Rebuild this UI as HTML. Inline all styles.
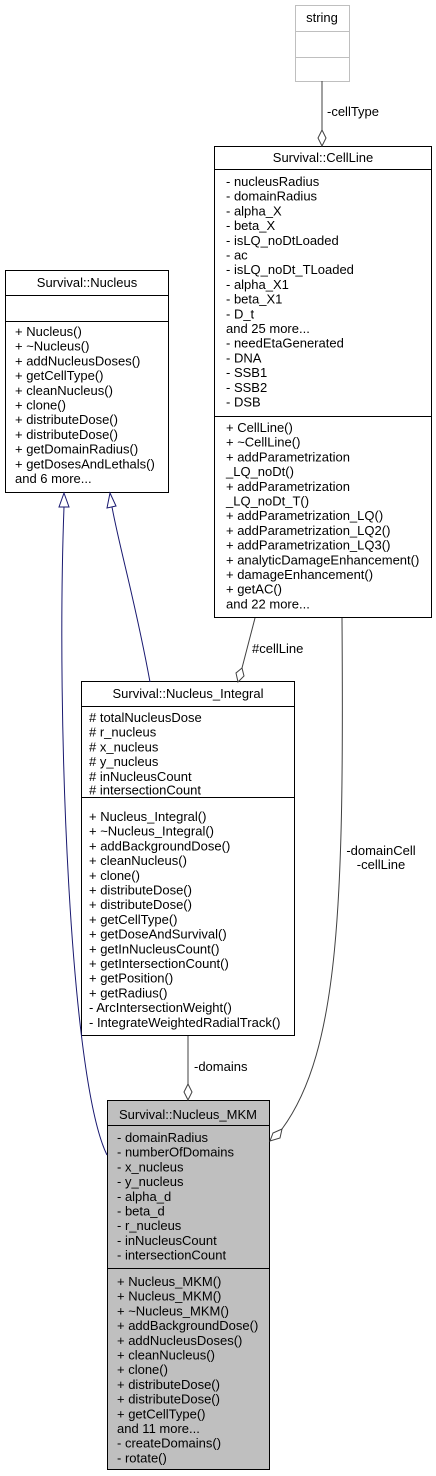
<!DOCTYPE html>
<html><head><meta charset="utf-8"><style>
html,body{margin:0;padding:0;background:#fff}
svg{display:block}
text{font-family:"Liberation Sans",Arial,sans-serif;font-size:13px;fill:#000}
</style></head><body>
<svg width="436" height="1476" viewBox="0 0 436 1476" xmlns="http://www.w3.org/2000/svg">
<!-- string -->
<rect x="295.5" y="5.5" width="54" height="76" fill="#fff" stroke="#bfbfbf"/>
<line x1="295.5" y1="31.5" x2="349.5" y2="31.5" stroke="#bfbfbf"/>
<line x1="295.5" y1="57.5" x2="349.5" y2="57.5" stroke="#bfbfbf"/>
<text x="322" y="22" text-anchor="middle">string</text>

<!-- CellLine -->
<rect x="214.5" y="146.5" width="217" height="471" fill="#fff" stroke="#000"/>
<line x1="214.5" y1="169.5" x2="431.5" y2="169.5" stroke="#000"/>
<line x1="214.5" y1="416.5" x2="431.5" y2="416.5" stroke="#000"/>
<text x="323" y="162" text-anchor="middle">Survival::CellLine</text>
<g>
<text x="226" y="186">- nucleusRadius</text>
<text x="226" y="200.7">- domainRadius</text>
<text x="226" y="215.4">- alpha_X</text>
<text x="226" y="230.1">- beta_X</text>
<text x="226" y="244.8">- isLQ_noDtLoaded</text>
<text x="226" y="259.5">- ac</text>
<text x="226" y="274.2">- isLQ_noDt_TLoaded</text>
<text x="226" y="288.9">- alpha_X1</text>
<text x="226" y="303.6">- beta_X1</text>
<text x="226" y="318.3">- D_t</text>
<text x="226" y="333">and 25 more...</text>
<text x="226" y="347.7">- needEtaGenerated</text>
<text x="226" y="362.4">- DNA</text>
<text x="226" y="377.1">- SSB1</text>
<text x="226" y="391.8">- SSB2</text>
<text x="226" y="406.5">- DSB</text>
<text x="226" y="432">+ CellLine()</text>
<text x="226" y="446.7">+ ~CellLine()</text>
<text x="226" y="461.4">+ addParametrization</text>
<text x="226" y="476.1">_LQ_noDt()</text>
<text x="226" y="490.8">+ addParametrization</text>
<text x="226" y="505.5">_LQ_noDt_T()</text>
<text x="226" y="520.2">+ addParametrization_LQ()</text>
<text x="226" y="534.9">+ addParametrization_LQ2()</text>
<text x="226" y="549.6">+ addParametrization_LQ3()</text>
<text x="226" y="564.3">+ analyticDamageEnhancement()</text>
<text x="226" y="579">+ damageEnhancement()</text>
<text x="226" y="593.7">+ getAC()</text>
<text x="226" y="608.4">and 22 more...</text>
</g>

<!-- Nucleus -->
<rect x="5.5" y="270.5" width="163" height="222" fill="#fff" stroke="#000"/>
<line x1="5.5" y1="295.5" x2="168.5" y2="295.5" stroke="#000"/>
<line x1="5.5" y1="321.5" x2="168.5" y2="321.5" stroke="#000"/>
<text x="87" y="287" text-anchor="middle">Survival::Nucleus</text>
<g>
<text x="15" y="336">+ Nucleus()</text>
<text x="15" y="350.7">+ ~Nucleus()</text>
<text x="15" y="365.4">+ addNucleusDoses()</text>
<text x="15" y="380.1">+ getCellType()</text>
<text x="15" y="394.8">+ cleanNucleus()</text>
<text x="15" y="409.5">+ clone()</text>
<text x="15" y="424.2">+ distributeDose()</text>
<text x="15" y="438.9">+ distributeDose()</text>
<text x="15" y="453.6">+ getDomainRadius()</text>
<text x="15" y="468.3">+ getDosesAndLethals()</text>
<text x="15" y="483">and 6 more...</text>
</g>

<!-- Nucleus_Integral -->
<rect x="81.5" y="681.5" width="213" height="354" fill="#fff" stroke="#000"/>
<line x1="81.5" y1="706.5" x2="294.5" y2="706.5" stroke="#000"/>
<line x1="81.5" y1="797.5" x2="294.5" y2="797.5" stroke="#000"/>
<text x="188" y="698" text-anchor="middle">Survival::Nucleus_Integral</text>
<g>
<text x="89" y="722"># totalNucleusDose</text>
<text x="89" y="736.7"># r_nucleus</text>
<text x="89" y="751.4"># x_nucleus</text>
<text x="89" y="766.1"># y_nucleus</text>
<text x="89" y="780.8"># inNucleusCount</text>
<text x="89" y="794.5"># intersectionCount</text>
<text x="89" y="821">+ Nucleus_Integral()</text>
<text x="89" y="835.7">+ ~Nucleus_Integral()</text>
<text x="89" y="850.4">+ addBackgroundDose()</text>
<text x="89" y="865.1">+ cleanNucleus()</text>
<text x="89" y="879.8">+ clone()</text>
<text x="89" y="894.5">+ distributeDose()</text>
<text x="89" y="909.2">+ distributeDose()</text>
<text x="89" y="923.9">+ getCellType()</text>
<text x="89" y="938.6">+ getDoseAndSurvival()</text>
<text x="89" y="953.3">+ getInNucleusCount()</text>
<text x="89" y="968">+ getIntersectionCount()</text>
<text x="89" y="982.7">+ getPosition()</text>
<text x="89" y="997.4">+ getRadius()</text>
<text x="89" y="1012.1">- ArcIntersectionWeight()</text>
<text x="89" y="1026.8">- IntegrateWeightedRadialTrack()</text>
</g>

<!-- Nucleus_MKM -->
<rect x="107.5" y="1100.5" width="162" height="369" fill="#bfbfbf" stroke="#000"/>
<line x1="107.5" y1="1125.5" x2="269.5" y2="1125.5" stroke="#000"/>
<line x1="107.5" y1="1268.5" x2="269.5" y2="1268.5" stroke="#000"/>
<text x="188" y="1119" text-anchor="middle">Survival::Nucleus_MKM</text>
<g>
<text x="117" y="1142">- domainRadius</text>
<text x="117" y="1156.7">- numberOfDomains</text>
<text x="117" y="1171.4">- x_nucleus</text>
<text x="117" y="1186.1">- y_nucleus</text>
<text x="117" y="1200.8">- alpha_d</text>
<text x="117" y="1215.5">- beta_d</text>
<text x="117" y="1230.2">- r_nucleus</text>
<text x="117" y="1244.9">- inNucleusCount</text>
<text x="117" y="1259.6">- intersectionCount</text>
<text x="117" y="1286">+ Nucleus_MKM()</text>
<text x="117" y="1300.7">+ Nucleus_MKM()</text>
<text x="117" y="1315.4">+ ~Nucleus_MKM()</text>
<text x="117" y="1330.1">+ addBackgroundDose()</text>
<text x="117" y="1344.8">+ addNucleusDoses()</text>
<text x="117" y="1359.5">+ cleanNucleus()</text>
<text x="117" y="1374.2">+ clone()</text>
<text x="117" y="1388.9">+ distributeDose()</text>
<text x="117" y="1403.6">+ distributeDose()</text>
<text x="117" y="1418.3">+ getCellType()</text>
<text x="117" y="1433">and 11 more...</text>
<text x="117" y="1447.7">- createDomains()</text>
<text x="117" y="1462.4">- rotate()</text>
</g>

<!-- edges -->
<g fill="none" stroke="#404040">
<line x1="322" y1="81" x2="322" y2="130"/>
<polygon points="322,130 326,138 322,146 318,138" fill="#fff"/>
<line x1="255" y1="618" x2="242" y2="668"/>
<polygon points="242,668 244,676 238,682 236,673" fill="#fff"/>
<path d="M342,618 C344,900 340,1050 282,1129"/>
<polygon points="282,1129 280,1138 270,1141 273,1133" fill="#fff"/>
<line x1="188" y1="1036" x2="188" y2="1084"/>
<polygon points="188,1084 192,1092 188,1100 184,1092" fill="#fff"/>
</g>
<g fill="none" stroke="#191970">
<path d="M107,1155 C70,1080 56,720 64,507"/>
<polygon points="64,493 69,507 59,507" fill="#fff"/>
<path d="M150,682 C135,600 120,550 112,507"/>
<polygon points="110,493 116,506 107,508" fill="#fff"/>
</g>
<text x="327" y="116">-cellType</text>
<text x="252" y="653">#cellLine</text>
<text x="381" y="855" text-anchor="middle">-domainCell</text>
<text x="381" y="869" text-anchor="middle">-cellLine</text>
<text x="194" y="1071">-domains</text>
</svg>
</body></html>
